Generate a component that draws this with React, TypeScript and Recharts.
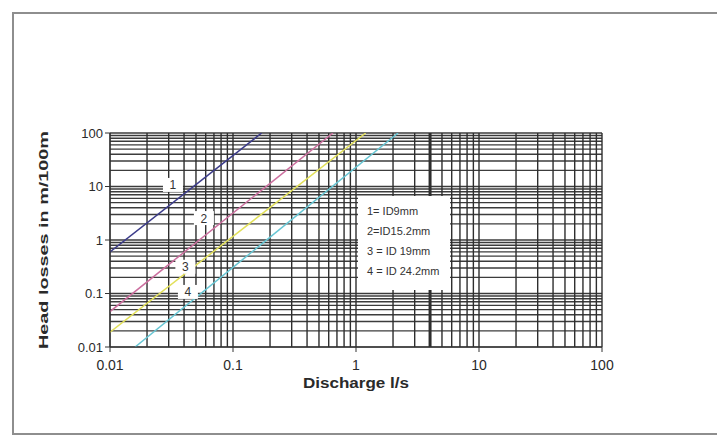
import React from 'react';
import {
  ComposedChart,
  Line,
  Scatter,
  XAxis,
  YAxis,
  ReferenceLine,
  Label,
} from 'recharts';

// Discharge (l/s) and head losses (m/100m) at line ends
const line1Q = [0.01, 0.171];
const line1H = [0.6, 100];
const line2Q = [0.01, 0.65];
const line2H = [0.046, 100];
const line3Q = [0.01, 1.2];
const line3H = [0.019, 100];
const line4Q = [0.016, 2.2];
const line4H = [0.01, 100];

const lineColors = ['#3c3c8a', '#cc6f9f', '#e2e05a', '#67c6d4'];

// Curve number tags placed on the graph
const tagText = ['1', '2', '3', '4'];
const tagQ = [0.0325, 0.058, 0.041, 0.043];
const tagH = [10.7, 2.57, 0.316, 0.107];

const legendLines = ['1= ID9mm', '2=ID15.2mm', '3 = ID 19mm', '4 = ID 24.2mm'];

const axisTicks = [0.01, 0.1, 1, 10, 100];
const decades = [0.01, 0.1, 1, 10];
const multipliers = [1, 2, 3, 4, 5, 6, 7, 8, 9];

const gridValues: number[] = [];
decades.forEach((d) =>
  multipliers.forEach((k) => gridValues.push(Number((d * k).toPrecision(3))))
);
gridValues.push(100);

const toPoints = (q: number[], h: number[]) => q.map((x, i) => ({ x, y: h[i] }));
const seriesData = [
  toPoints(line1Q, line1H),
  toPoints(line2Q, line2H),
  toPoints(line3Q, line3H),
  toPoints(line4Q, line4H),
];
const tagData = tagText.map((t, i) => ({ x: tagQ[i], y: tagH[i], t }));

const font = 'Liberation Sans, Arial, sans-serif';

const TagShape = (props: any) => {
  const { cx, cy, payload } = props;
  if (cx == null || cy == null) return null;
  return (
    <g>
      <rect x={cx - 10} y={cy - 7} width={20} height={14} fill="#ffffff" />
      <text
        x={cx}
        y={cy + 4.5}
        textAnchor="middle"
        fontSize={12}
        fontFamily={font}
        fill="#333"
      >
        {payload.t}
      </text>
    </g>
  );
};

const XTitle = (props: any) => {
  const vb = props.viewBox || {};
  return (
    <text
      x={vb.x + vb.width / 2}
      y={vb.y + 41}
      textAnchor="middle"
      fontSize={14}
      fontWeight="bold"
      fontFamily={font}
      fill="#2a2a2a"
      textLength={106}
      lengthAdjust="spacingAndGlyphs"
    >
      Discharge l/s
    </text>
  );
};

const YTitle = (props: any) => {
  const vb = props.viewBox || {};
  const cx = vb.x - 2;
  const cy = vb.y + vb.height / 2;
  return (
    <text
      x={cx}
      y={cy}
      transform={`rotate(-90 ${cx} ${cy})`}
      textAnchor="middle"
      fontSize={12.5}
      fontWeight="bold"
      fontFamily={font}
      fill="#2a2a2a"
      textLength={218}
      lengthAdjust="spacingAndGlyphs"
    >
      Head losses in m/100m
    </text>
  );
};

export default function App() {
  return (
    <div
      style={{
        position: 'absolute',
        left: 0,
        top: 0,
        width: 717,
        height: 440,
        background: '#ffffff',
        overflow: 'hidden',
      }}
    >
      <div
        style={{
          position: 'absolute',
          left: 12,
          top: 12,
          width: 720,
          height: 423,
          border: '2px solid #8e8e8e',
          boxSizing: 'border-box',
        }}
      />
      <div style={{ position: 'absolute', left: 0, top: 0 }}>
        <ComposedChart
          width={717}
          height={440}
          margin={{ top: 133, right: 115, bottom: 53, left: 50 }}
        >
          <XAxis
            type="number"
            dataKey="x"
            scale="log"
            domain={[0.01, 100]}
            allowDataOverflow
            ticks={axisTicks}
            tickFormatter={(v: number) => String(v)}
            tick={{ fontSize: 14, fill: '#2a2a2a', fontFamily: font }}
            tickSize={5}
            tickMargin={8}
            stroke="#333"
            height={40}
            interval={0}
          >
            <Label content={<XTitle />} />
          </XAxis>
          <YAxis
            type="number"
            dataKey="y"
            scale="log"
            domain={[0.01, 100]}
            allowDataOverflow
            ticks={axisTicks}
            tickFormatter={(v: number) => String(v)}
            tick={{ fontSize: 13, fill: '#2a2a2a', fontFamily: font }}
            tickSize={5}
            tickMargin={2}
            stroke="#333"
            width={60}
            interval={0}
          >
            <Label content={<YTitle />} />
          </YAxis>
          {gridValues.map((v) => (
            <ReferenceLine
              key={'h' + v}
              y={v}
              stroke="#3c3c3c"
              strokeWidth={1.4}
              ifOverflow="extendDomain"
            />
          ))}
          {gridValues.map((v) => (
            <ReferenceLine
              key={'v' + v}
              x={v}
              stroke="#2e2e2e"
              strokeWidth={v === 4 ? 3 : 1.4}
              ifOverflow="extendDomain"
            />
          ))}
          {seriesData.map((d, i) => (
            <Line
              key={'s' + i}
              data={d}
              dataKey="y"
              stroke={lineColors[i]}
              strokeWidth={1.5}
              dot={false}
              isAnimationActive={false}
            />
          ))}
          <Scatter
            data={tagData}
            dataKey="y"
            shape={<TagShape />}
            isAnimationActive={false}
          />
        </ComposedChart>
      </div>
      <div
        style={{
          position: 'absolute',
          left: 358,
          top: 196,
          width: 92,
          height: 94,
          background: '#ffffff',
          fontFamily: font,
          fontSize: 11,
          color: '#333',
          boxSizing: 'border-box',
          paddingLeft: 9,
          paddingTop: 5,
          lineHeight: '20px',
        }}
      >
        {legendLines.map((t) => (
          <div key={t} style={{ whiteSpace: 'nowrap' }}>
            {t}
          </div>
        ))}
      </div>
    </div>
  );
}
